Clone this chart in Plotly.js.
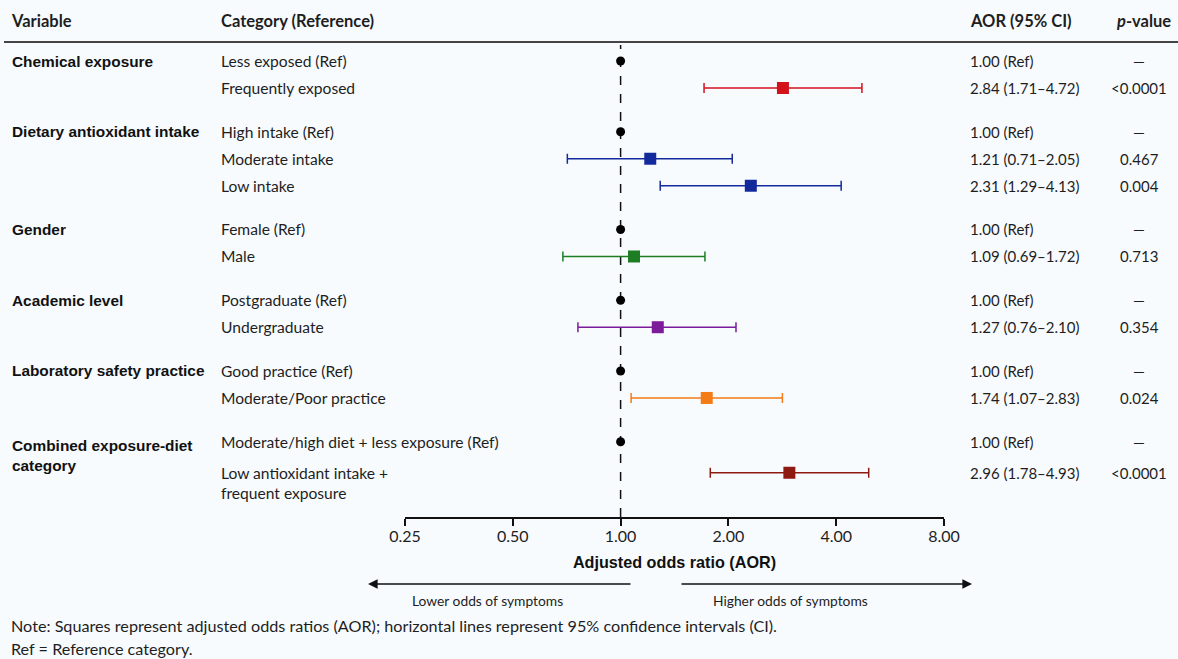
<!DOCTYPE html>
<html>
<head>
<meta charset="utf-8">
<script src="https://cdn.plot.ly/plotly-3.0.1.min.js"></script>
<style>html,body{margin:0;padding:0;background:#f7fbfe;}#chart{width:1178px;height:659px;}</style>
</head>
<body>
<div id="chart"></div>
<script>
// ---- data ----
const variables = ["Chemical exposure", "Dietary antioxidant intake", "Gender", "Academic level", "Laboratory safety practice", "Combined exposure-diet<br>category"];
const groupOf = [0, 0, 1, 1, 1, 2, 2, 3, 3, 4, 4, 5, 5];
const categories = ["Less exposed (Ref)", "Frequently exposed", "High intake (Ref)", "Moderate intake", "Low intake", "Female (Ref)", "Male", "Postgraduate (Ref)", "Undergraduate", "Good practice (Ref)", "Moderate/Poor practice", "Moderate/high diet + less exposure (Ref)", "Low antioxidant intake +<br>frequent exposure"];
const aor = [1.00, 2.84, 1.00, 1.21, 2.31, 1.00, 1.09, 1.00, 1.27, 1.00, 1.74, 1.00, 2.96];
const ciLow = [null, 1.71, null, 0.71, 1.29, null, 0.69, null, 0.76, null, 1.07, null, 1.78];
const ciHigh = [null, 4.72, null, 2.05, 4.13, null, 1.72, null, 2.10, null, 2.83, null, 4.93];
const aorText = ["1.00 (Ref)", "2.84 (1.71–4.72)", "1.00 (Ref)", "1.21 (0.71–2.05)", "2.31 (1.29–4.13)", "1.00 (Ref)", "1.09 (0.69–1.72)", "1.00 (Ref)", "1.27 (0.76–2.10)", "1.00 (Ref)", "1.74 (1.07–2.83)", "1.00 (Ref)", "2.96 (1.78–4.93)"];
const pText = ["—", "<0.0001", "—", "0.467", "0.004", "—", "0.713", "—", "0.354", "—", "0.024", "—", "<0.0001"];
const tickVals = [0.25, 0.5, 1, 2, 4, 8];
const tickText = ["0.25", "0.50", "1.00", "2.00", "4.00", "8.00"];

// ---- styles ----
const rowColors = [null, "#d3121c", null, "#132a9c", "#132a9c", null, "#1d7d22", null, "#7d1c9b", null, "#f47c17", null, "#8e1b12"];
const W = 1178, H = 659;
const txtFont = "Lato, 'Open Sans', sans-serif";
const boldFont = "'Liberation Sans', Arial, sans-serif";
const txtColor = "#1e1e1e";

// row positions (row units): step 1 in a group, larger gap between groups
const GROUP_GAP = 1.62;
const rowPos = [];
let pos = 0;
for (let i = 0; i < categories.length; i++) {
  if (i > 0) pos += (groupOf[i] !== groupOf[i - 1]) ? GROUP_GAP : 1;
  if (categories[i].includes("<br>")) pos += 0.15;
  rowPos.push(pos);
}

const px = v => v / W;           // x pixel -> paper
const py = v => 1 - v / H;       // y pixel -> paper
const plotTop = 42, plotBottom = 517;
const rowPx = 27, firstRowPx = 61;

const traces = [];
// reference points
const refIdx = aor.map((v, i) => ciLow[i] === null ? i : -1).filter(i => i >= 0);
traces.push({
  type: "scatter", mode: "markers",
  x: refIdx.map(i => aor[i]), y: refIdx.map(i => rowPos[i]),
  marker: {symbol: "circle", size: 9, color: "#000"},
  hoverinfo: "skip", showlegend: false
});
// estimates with CI
aor.forEach((v, i) => {
  if (ciLow[i] === null) return;
  traces.push({
    type: "scatter", mode: "markers",
    x: [v], y: [rowPos[i]],
    marker: {symbol: "square", size: 12, color: rowColors[i]},
    error_x: {type: "data", symmetric: false, array: [ciHigh[i] - v], arrayminus: [v - ciLow[i]],
      color: rowColors[i], thickness: 1.5, width: 5},
    showlegend: false
  });
});

const ann = [];
const header = (text, x, anchor, font, size) => ann.push({xref: "paper", yref: "paper", x: px(x), y: py(21), xanchor: anchor, yanchor: "middle",
  text: text, showarrow: false, font: {family: font || txtFont, size: size || 16.5, color: txtColor}});
header("<b>Variable</b>", 9, "left", txtFont, 16.5);
header("<b>Category (Reference)</b>", 219, "left");
header("<b>AOR (95% CI)</b>", 968, "left");
header("<b><i>p</i>-value</b>", 1143, "center");

// variable names
variables.forEach((name, g) => {
  const first = groupOf.indexOf(g);
  const multi = name.includes("<br>");
  ann.push({xref: "paper", yref: "y", x: px(10), y: rowPos[first], xanchor: "left",
    yanchor: multi ? "top" : "middle", yshift: multi ? 7 : 0,
    text: "<b>" + name + "</b>", showarrow: false, align: "left",
    font: {family: boldFont, size: 15.4, color: "#111"}});
});
// category, AOR, p
categories.forEach((c, i) => {
  const multi = c.includes("<br>");
  ann.push({xref: "paper", yref: "y", x: px(219), y: rowPos[i], xanchor: "left",
    yanchor: multi ? "top" : "middle", yshift: multi ? 11 : 0, align: "left",
    text: c, showarrow: false, font: {family: txtFont, size: 15.6, color: txtColor}});
  ann.push({xref: "paper", yref: "y", x: px(968), y: rowPos[i], xanchor: "left", yanchor: "middle",
    text: aorText[i], showarrow: false, font: {family: txtFont, size: 15, color: txtColor}});
  ann.push({xref: "paper", yref: "y", x: px(1139), y: rowPos[i], xanchor: "center", yanchor: "middle",
    text: pText[i], showarrow: false, font: {family: txtFont, size: 15, color: txtColor}});
});

// direction arrows
ann.push({xref: "paper", yref: "paper", x: px(368), y: py(584), ax: 264, ay: 0, text: "", showarrow: true,
  arrowhead: 2, arrowsize: 1.2, arrowwidth: 1.6, arrowcolor: "#111"});
ann.push({xref: "paper", yref: "paper", x: px(972), y: py(584), ax: -292, ay: 0, text: "", showarrow: true,
  arrowhead: 2, arrowsize: 1.2, arrowwidth: 1.6, arrowcolor: "#111"});
ann.push({xref: "paper", yref: "paper", x: px(487), y: py(600), xanchor: "center", yanchor: "middle",
  text: "Lower odds of symptoms", showarrow: false, font: {family: txtFont, size: 13.8, color: txtColor}});
ann.push({xref: "paper", yref: "paper", x: px(790), y: py(600), xanchor: "center", yanchor: "middle",
  text: "Higher odds of symptoms", showarrow: false, font: {family: txtFont, size: 13.8, color: txtColor}});

// notes
ann.push({xref: "paper", yref: "paper", x: px(9), y: py(625), xanchor: "left", yanchor: "middle",
  text: "Note: Squares represent adjusted odds ratios (AOR); horizontal lines represent 95% confidence intervals (CI).",
  showarrow: false, font: {family: txtFont, size: 16.2, color: txtColor}});
ann.push({xref: "paper", yref: "paper", x: px(9), y: py(648), xanchor: "left", yanchor: "middle",
  text: "Ref = Reference category.", showarrow: false, font: {family: txtFont, size: 16.2, color: txtColor}});

const yTop = -(firstRowPx - plotTop) / rowPx;
const yBottom = (plotBottom - firstRowPx) / rowPx;

const layout = {
  width: W, height: H,
  margin: {l: 0, r: 0, t: 0, b: 0},
  paper_bgcolor: "#f7fbfe", plot_bgcolor: "rgba(0,0,0,0)",
  showlegend: false,
  xaxis: {
    type: "log", domain: [px(405), px(944)],
    range: [Math.log10(0.25), Math.log10(8)],
    tickvals: tickVals, ticktext: tickText,
    showgrid: false, zeroline: false,
    showline: true, linecolor: "#111", linewidth: 2,
    ticks: "outside", ticklen: 7, tickwidth: 2, tickcolor: "#111",
    ticklabelstandoff: -3,
    tickfont: {family: txtFont, size: 16, color: txtColor},
    title: {text: "<b>Adjusted odds ratio (AOR)</b>", standoff: 12,
      font: {family: boldFont, size: 16.2, color: "#111"}},
    fixedrange: true
  },
  yaxis: {
    domain: [py(plotBottom), py(plotTop)],
    range: [yBottom, yTop],
    visible: false, fixedrange: true
  },
  shapes: [
    {type: "line", xref: "paper", yref: "paper", x0: px(4), x1: 1, y0: py(plotTop), y1: py(plotTop),
      line: {color: "#444", width: 2}},
    {type: "line", xref: "x", yref: "paper", x0: 1, x1: 1, y0: py(plotBottom), y1: py(plotTop + 3),
      line: {color: "#111", width: 1.5, dash: "dash"}, layer: "below"}
  ],
  annotations: ann
};

Plotly.newPlot("chart", traces, layout, {displayModeBar: false, staticPlot: true});
</script>
</body>
</html>
